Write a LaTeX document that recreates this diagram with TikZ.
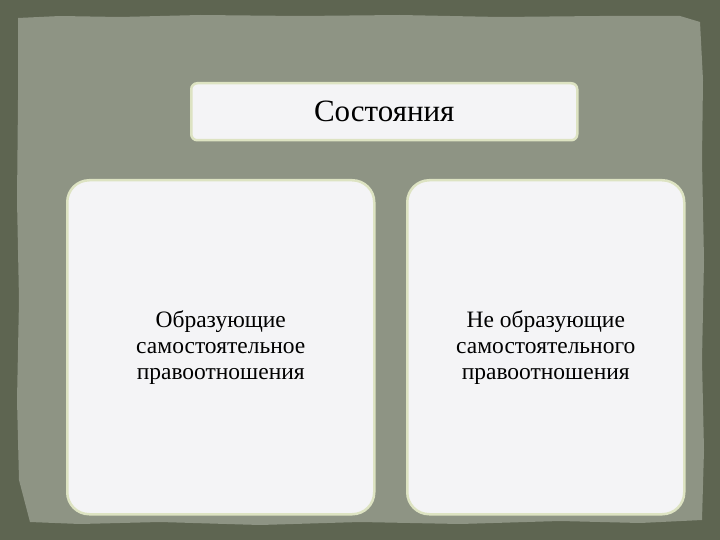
\documentclass[tikz,border=0pt]{standalone}
\usepackage{fontspec}
\setmainfont{Liberation Serif}
\definecolor{outerbg}{HTML}{5E6551}
\definecolor{innerbg}{HTML}{8E9484}
\definecolor{boxfill}{HTML}{F4F4F6}
\definecolor{boxline}{HTML}{DDE3C2}
\tikzset{
  x=1pt, y=-1pt,
  panel/.style={draw=boxline, line width=2.5pt, fill=boxfill},
  bodytext/.style={align=center, font=\fontsize{23.5}{26}\selectfont, text=black}
}
\begin{document}
\begin{tikzpicture}
\useasboundingbox (0,0) rectangle (720,540);
\fill[outerbg] (0,0) rectangle (720,540);
% rough inner panel
\fill[innerbg] (18,18) -- (60,16) -- (120,17) -- (200,15) -- (300,16) -- (400,15) -- (500,17) -- (600,16) -- (680,16) -- (700,22)
  -- (703,80) -- (702,160) -- (704,260) -- (702,360) -- (704,450) -- (702,520)
  -- (640,523) -- (560,521) -- (460,524) -- (360,522) -- (260,525) -- (160,522) -- (80,524) -- (30,522)
  -- (19,480) -- (17,400) -- (19,300) -- (17,200) -- (18,100) -- cycle;
\node[panel, rounded corners=6pt, minimum width=386pt, minimum height=57pt, anchor=north west] (top) at (190,82) {};
\node[font=\fontsize{31}{34}\selectfont, text=black] (toptext) at ([yshift=0pt]top.center) {Состояния};
\node[panel, rounded corners=22pt, minimum width=307pt, minimum height=334pt, anchor=north west] (left) at (66,179) {};
\node[panel, rounded corners=22pt, minimum width=277pt, minimum height=334pt, anchor=north west] (right) at (406,179) {};
\node[bodytext] (ltext) at ([yshift=0pt]left.center) {Образующие\\самостоятельное\\правоотношения};
\node[bodytext] (rtext) at ([yshift=0pt]right.center) {Не образующие\\самостоятельного\\правоотношения};
\end{tikzpicture}
\end{document}
